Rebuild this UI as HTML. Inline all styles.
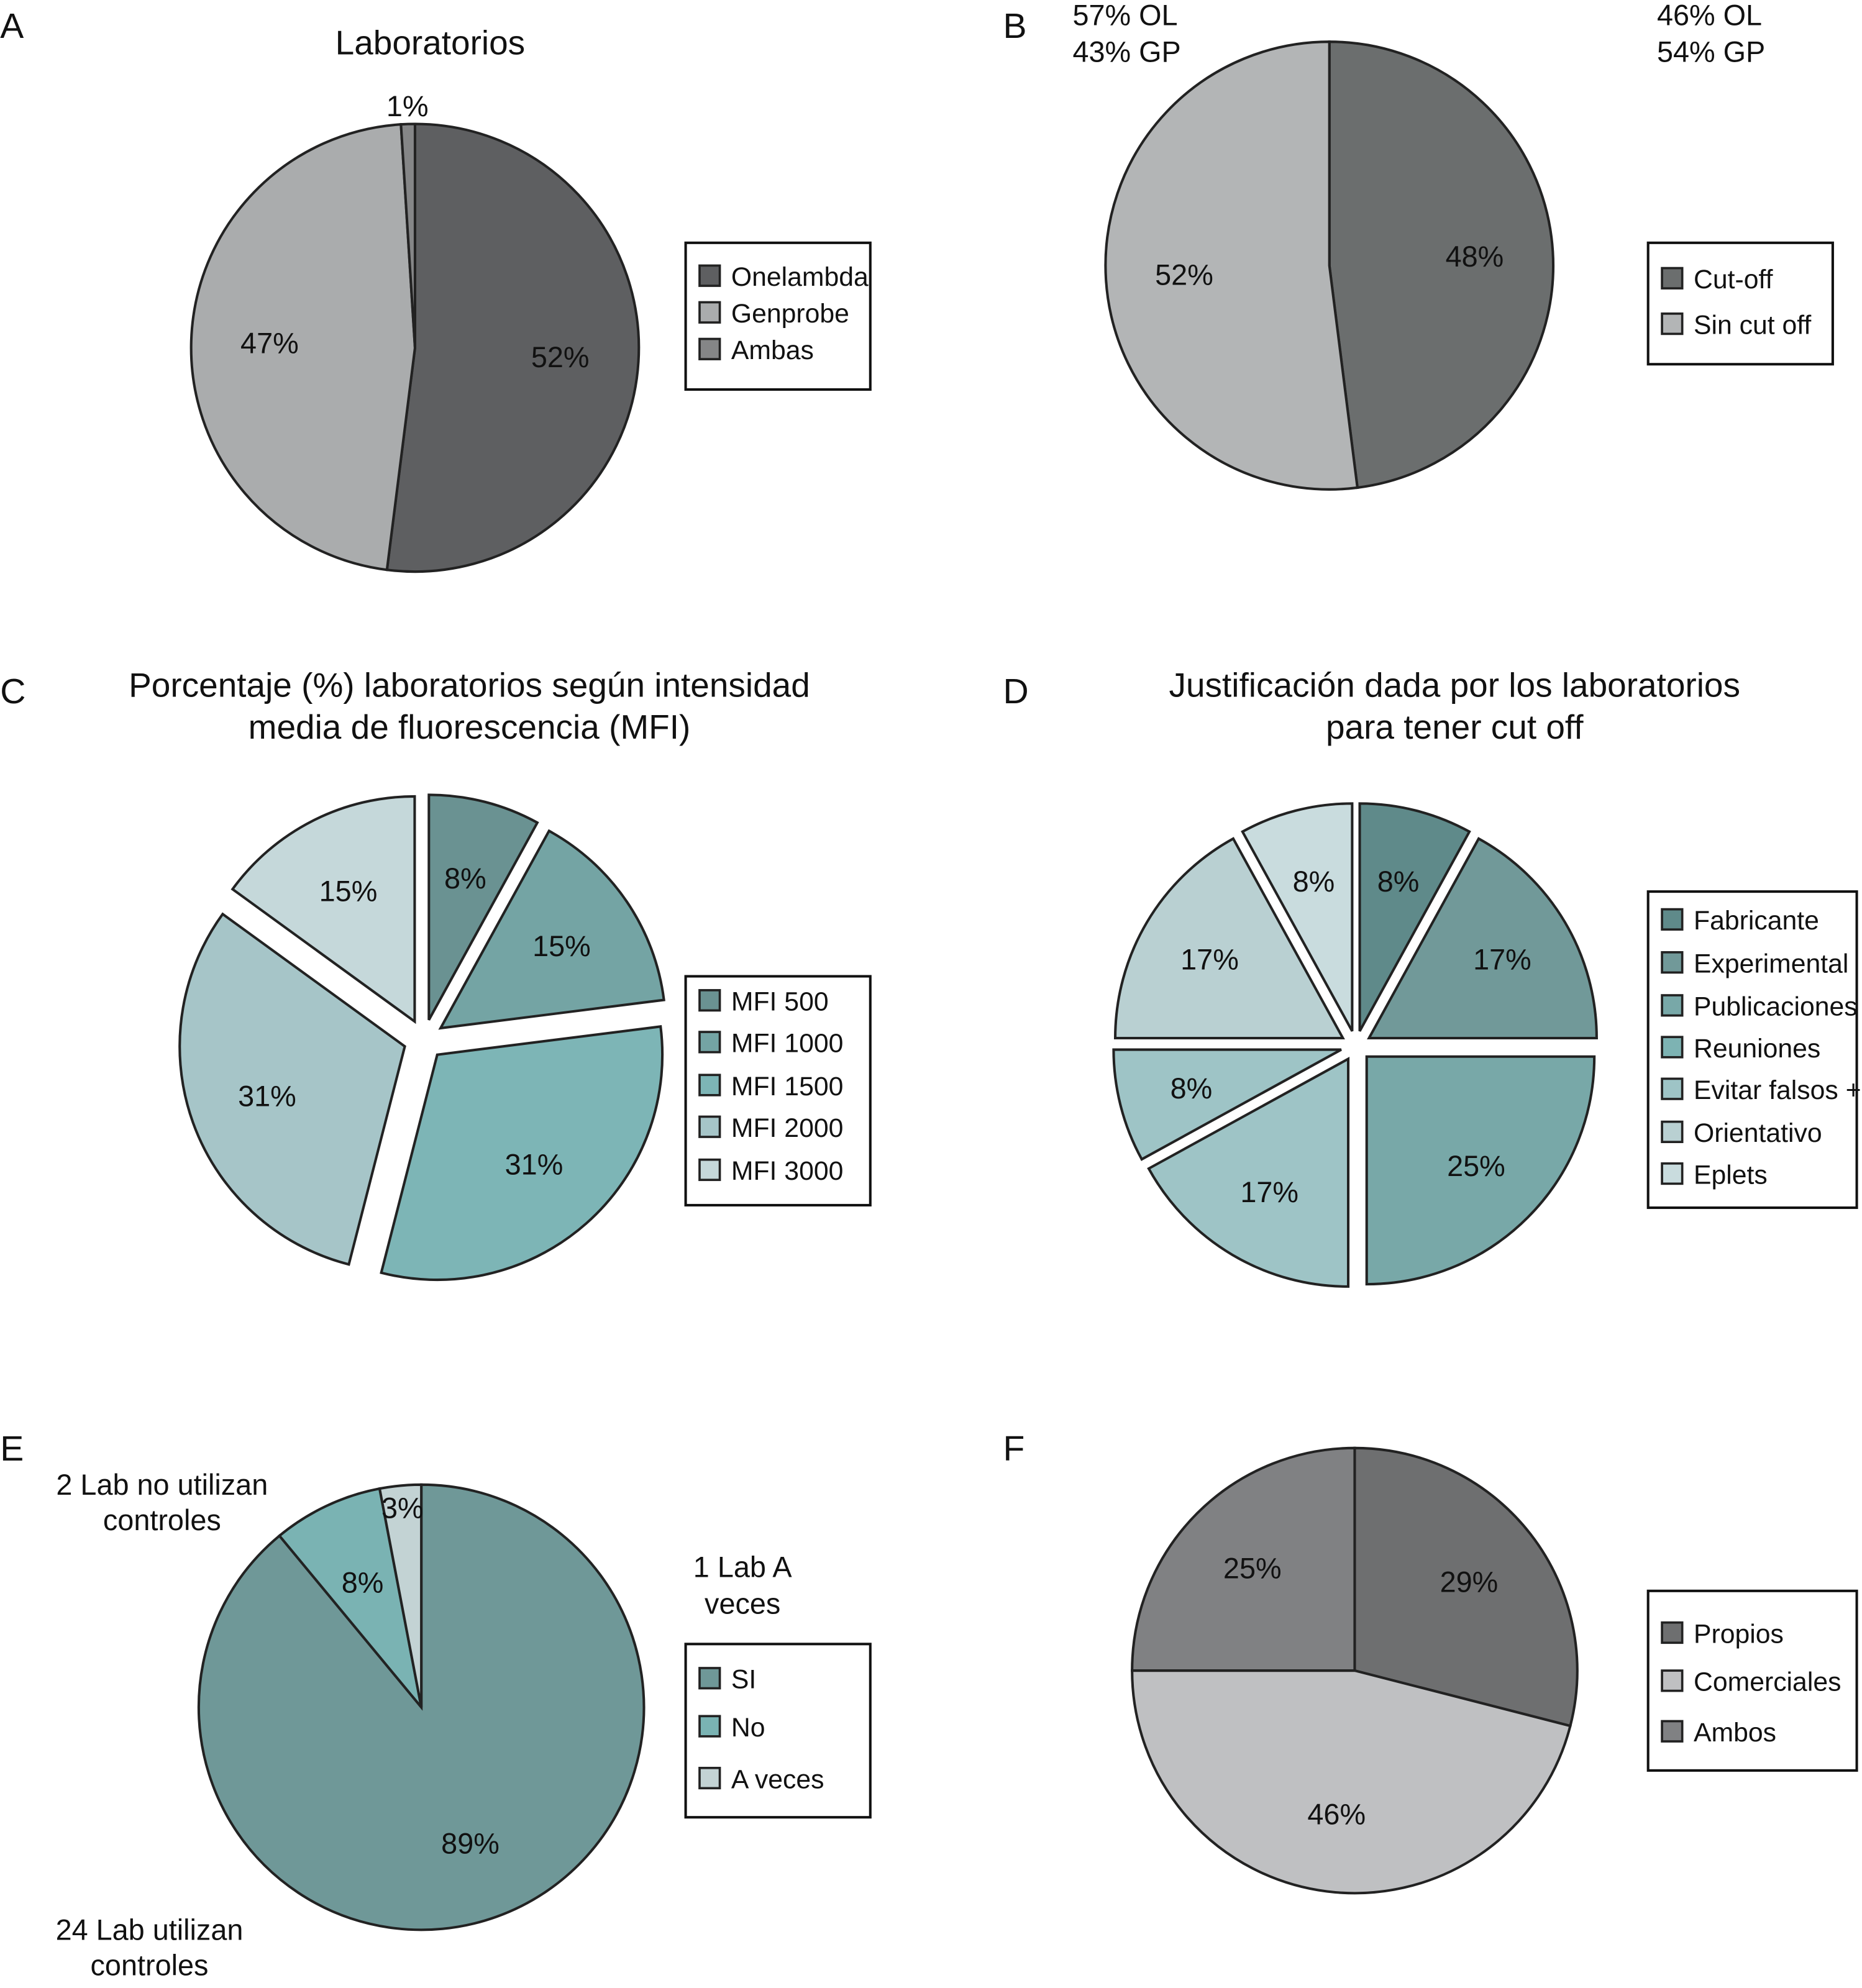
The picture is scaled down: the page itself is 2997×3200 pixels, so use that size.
<!DOCTYPE html>
<html><head><meta charset="utf-8"><style>
html,body{margin:0;padding:0;background:#fff}
svg{display:block}
text{font-family:"Liberation Sans",sans-serif;fill:#111}
</style></head><body>
<svg id="fig" width="2997" height="3200" viewBox="0 0 1472 1572" xmlns="http://www.w3.org/2000/svg">
<g font-size="28">
<text x="0" y="30">A</text>
<text x="793" y="30">B</text>
<text x="0" y="556">C</text>
<text x="793" y="556">D</text>
<text x="0" y="1155">E</text>
<text x="793" y="1155">F</text>
</g>
<g font-size="27" text-anchor="middle">
<text x="340" y="43">Laboratorios</text>
<text x="371" y="551">Porcentaje (%) laboratorios según intensidad</text>
<text x="371" y="584">media de fluorescencia (MFI)</text>
<text x="1150" y="551">Justificación dada por los laboratorios</text>
<text x="1150" y="584">para tener cut off</text>
</g>
<g font-size="23">
<text x="848" y="20">57% OL</text>
<text x="848" y="49">43% GP</text>
<text x="1310" y="20">46% OL</text>
<text x="1310" y="49">54% GP</text>
<text x="128" y="1182" text-anchor="middle">2 Lab no utilizan</text>
<text x="128" y="1210" text-anchor="middle">controles</text>
<text x="587" y="1247" text-anchor="middle">1 Lab A</text>
<text x="587" y="1276" text-anchor="middle">veces</text>
<text x="118" y="1534" text-anchor="middle">24 Lab utilizan</text>
<text x="118" y="1562" text-anchor="middle">controles</text>
</g>
</svg>
<script>
const aLabels=["Onelambda","Genprobe","Ambas"];
const aValues=[52,47,1];
const bLabels=["Cut-off","Sin cut off"];
const bValues=[48,52];
const cLabels=["MFI 500","MFI 1000","MFI 1500","MFI 2000","MFI 3000"];
const cValues=[8,15,31,31,15];
const dLabels=["Fabricante","Experimental","Publicaciones","Reuniones","Evitar falsos +","Orientativo","Eplets"];
const dValues=[8,17,25,8,17,8,17];
const dOrderValues=[8,17,25,17,8,17,8];
const eLabels=["SI","No","A veces"];
const eValues=[89,8,3];
const fLabels=["Propios","Comerciales","Ambos"];
const fValues=[29,46,25];

const NS="http://www.w3.org/2000/svg";
const svg=document.getElementById('fig');
function mk(tag,attrs,parent){const e=document.createElementNS(NS,tag);for(const k in attrs)e.setAttribute(k,attrs[k]);(parent||svg).appendChild(e);return e;}
function pt(cx,cy,r,deg){const a=deg*Math.PI/180;return [cx+r*Math.sin(a),cy-r*Math.cos(a)];}

function pie(name,cx,cy,r,values,colors,explode,labelR,labelOverride){
  const g=mk('g',{});
  
  
  const total=values.reduce((s,v)=>s+v,0);
  let ang=0;
  values.forEach((v,i)=>{
    const span=v/total*360, mid=ang+span/2;
    const off=pt(0,0,explode,mid);
    const x=cx+off[0], y=cy+off[1];
    const p1=pt(x,y,r,ang), p2=pt(x,y,r,ang+span);
    const large=span>180?1:0;
    const path=mk('path',{d:`M${x},${y} L${p1[0]},${p1[1]} A${r},${r} 0 ${large} 1 ${p2[0]},${p2[1]} Z`,fill:colors[i],stroke:'#222','stroke-width':2,'stroke-linejoin':'miter'},g);
    
    
    const lr=(labelOverride&&labelOverride[i])?labelOverride[i]:labelR;
    const lp=pt(x,y,r*lr,mid);
    const t=mk('text',{x:lp[0],y:lp[1]+8,'text-anchor':'middle','font-size':23},g);
    t.textContent=Math.round(v)+'%';
    
    
    ang+=span;
  });
}
function legend(name,x,y,w,h,labels,colors,ys){
  const g=mk('g',{});
  
  
  mk('rect',{x:x,y:y,width:w,height:h,fill:'#fff',stroke:'#111','stroke-width':2},g);
  labels.forEach((l,i)=>{
    const s=mk('rect',{x:x+11,y:ys[i]-8,width:16,height:16,fill:colors[i],stroke:'#222','stroke-width':1.8},g);
    
    
    const t=mk('text',{x:x+36,y:ys[i]+8,'font-size':21},g);
    t.textContent=l;
    
    
  });
}
const aCol=['#5e5f61','#aaacad','#858687'];
pie('a',328,275,177,aValues,aCol,0,0.65,[0,0,1.08]);
legend('a',542,192,146,116,aLabels,aCol,[218,247,276]);
const bCol=['#6b6e6e','#b3b5b6'];
pie('b',1051,210,177,bValues,bCol,0,0.65);
legend('b',1303,192,146,96,bLabels,bCol,[220,256]);
const cCol=['#6a9292','#74a4a4','#7db5b6','#a6c5c8','#c5d8da'];
pie('c',335,822,178,cValues,cCol,16,0.65);
legend('c',542,772,146,181,cLabels,cCol,[791,824,858,891,925]);
const dSlice=['#5f8a8a','#719999','#78a8a8','#9ec4c6','#9ec4c6','#b9d0d2','#c9dcde'];
const dCol=['#5f8a8a','#719999','#78a8a8','#7db3b3','#9ec4c6','#b9d0d2','#c9dcde'];
pie('d',1072,827,180,dOrderValues,dSlice,12,0.68);
legend('d',1303,705,165,250,dLabels,dCol,[727,761,795,828,861,895,928]);
const eCol=['#6f9898','#7ab3b3','#c3d3d4'];
pie('e',333,1350,176,eValues,eCol,0,0.65,[0,0.62,0.9]);
legend('e',542,1300,146,137,eLabels,eCol,[1327,1365,1406]);
const fCol=['#6e6f70','#bfc0c2','#808183'];
pie('f',1071,1321,176,fValues,fCol,0,0.65);
legend('f',1303,1258,165,142,fLabels,[fCol[0],fCol[1],fCol[2]],[1291,1329,1369]);
</script>
</body></html>
